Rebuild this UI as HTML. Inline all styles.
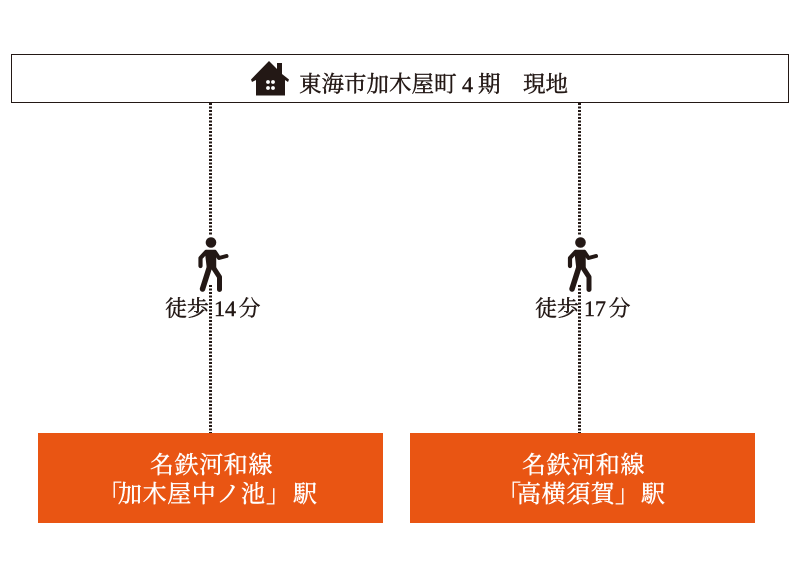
<!DOCTYPE html>
<html lang="ja">
<head>
<meta charset="utf-8">
<style>
html,body{margin:0;padding:0;background:#fff}
#c{position:relative;width:800px;height:577px;overflow:hidden;background:#fff;font-family:"Liberation Serif","Noto Serif CJK SC",serif;color:#231815}
.t{position:absolute;white-space:nowrap;line-height:1;-webkit-text-stroke:.4px currentColor}
.box{position:absolute;background:#e95513;top:433px;height:90px;width:345px}
.w{color:#fff;font-size:24px;letter-spacing:.6px}
.d{position:absolute;top:103px;width:3px;height:330px;background:repeating-linear-gradient(to bottom,#231815 0,#231815 2px,#fff 2px,#fff 3.5px)}
</style>
</head>
<body>
<div id="c">
<div style="position:absolute;left:11px;top:54px;width:776px;height:46.500px;border:1.500px solid #231815"></div>
<div class="d" style="left:209px"></div>
<div class="d" style="left:578px"></div>
<div style="position:absolute;left:195px;top:236px;width:40px;height:49px;background:#fff"></div>
<div style="position:absolute;left:565px;top:236px;width:40px;height:49px;background:#fff"></div>
<svg style="position:absolute;left:0;top:0" width="800" height="577" viewBox="0 0 800 577">
<path fill="#231815" d="M251 79.500L269 61L277 69V63H282V74L289 79.500L288 82L285 80V95.500H256V80L252 82Z"/>
<g fill="#fff"><circle cx="268" cy="82" r="1.900"/><circle cx="273" cy="82" r="1.900"/><circle cx="268" cy="88" r="1.900"/><circle cx="273" cy="88" r="1.900"/></g>
<g fill="#231815" stroke="#231815" stroke-linecap="round" stroke-linejoin="round">
<circle cx="211" cy="242.500" r="5.300" stroke="none"/>
<path d="M206 251H215L215 268H208Z" stroke-width="2.500"/>
<path d="M206 252L200.500 258L200.500 266" fill="none" stroke-width="4.200"/>
<path d="M215 252L219 258L226.500 256" fill="none" stroke-width="4"/>
<path d="M209.500 267L202.500 289" fill="none" stroke-width="5.500"/>
<path d="M213 267L219.500 277L219.500 289.500" fill="none" stroke-width="5"/>
</g>
<g fill="#231815" stroke="#231815" stroke-linecap="round" stroke-linejoin="round" transform="translate(369.500,0)">
<circle cx="211" cy="242.500" r="5.300" stroke="none"/>
<path d="M206 251H215L215 268H208Z" stroke-width="2.500"/>
<path d="M206 252L200.500 258L200.500 266" fill="none" stroke-width="4.200"/>
<path d="M215 252L219 258L226.500 256" fill="none" stroke-width="4"/>
<path d="M209.500 267L202.500 289" fill="none" stroke-width="5.500"/>
<path d="M213 267L219.500 277L219.500 289.500" fill="none" stroke-width="5"/>
</g>
</svg>
<div class="t" style="left:299px;top:74px;font-size:22.500px">東海市加木屋町</div>
<div class="t" style="left:462px;top:74px;font-size:22px">4</div>
<div class="t" style="left:478px;top:74px;font-size:22.500px">期</div>
<div class="t" style="left:523px;top:74px;font-size:22.500px">現地</div>
<div class="t" style="left:165px;top:298px;font-size:22px">徒歩</div>
<div class="t" style="left:214px;top:298px;font-size:22px">14</div>
<div class="t" style="left:238.500px;top:298px;font-size:22px">分</div>
<div class="t" style="left:535px;top:298px;font-size:22px">徒歩</div>
<div class="t" style="left:584px;top:298px;font-size:22px">17</div>
<div class="t" style="left:608.500px;top:298px;font-size:22px">分</div>
<div class="box" style="left:38px"></div>
<div class="box" style="left:410px"></div>
<div class="t w" style="left:150px;top:454px">名鉄河和線</div>
<div class="t w" style="left:98px;top:483px">「</div>
<div class="t w" style="left:118px;top:483px">加木屋中ノ池</div>
<div class="t w" style="left:266px;top:483px">」</div>
<div class="t w" style="left:293px;top:483px">駅</div>
<div class="t w" style="left:522px;top:454px">名鉄河和線</div>
<div class="t w" style="left:497px;top:483px">「</div>
<div class="t w" style="left:517px;top:483px">高横須賀</div>
<div class="t w" style="left:615px;top:483px">」</div>
<div class="t w" style="left:641px;top:483px">駅</div>
</div>
</body>
</html>
